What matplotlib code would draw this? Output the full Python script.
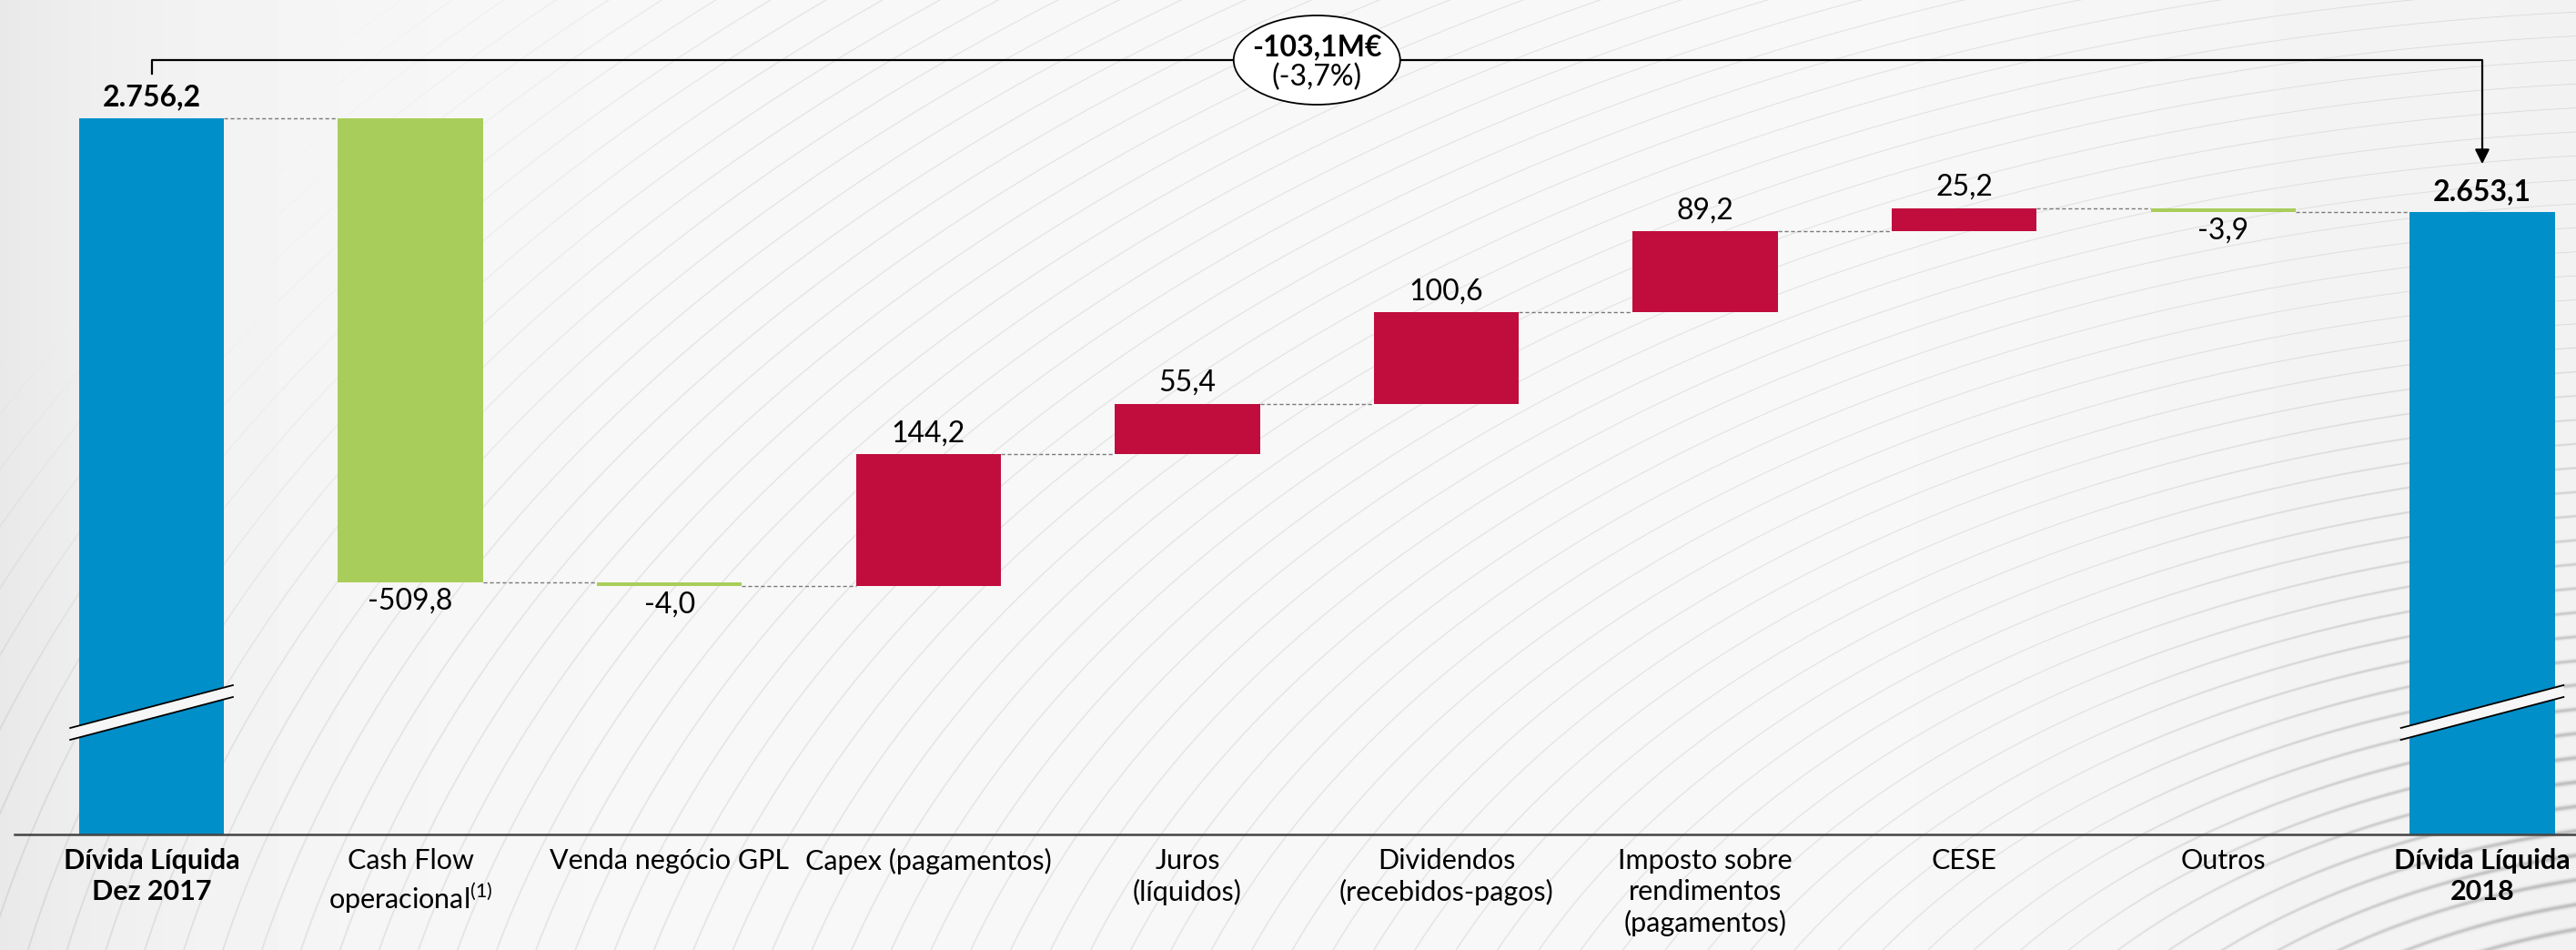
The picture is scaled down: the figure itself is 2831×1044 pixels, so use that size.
import numpy as np
import matplotlib
matplotlib.use("Agg")
import matplotlib.pyplot as plt
from matplotlib.patches import Ellipse, Polygon

plt.rcParams['font.family'] = ['Lato', 'DejaVu Sans']
plt.rcParams['mathtext.fontset'] = 'custom'
plt.rcParams['mathtext.rm'] = 'Lato'

# waterfall data (M€)
categories = ["Dívida Líquida\nDez 2017", "Cash Flow\noperacional$^{\\mathregular{(1)}}$",
              "Venda negócio GPL", "Capex (pagamentos)", "Juros\n(líquidos)",
              "Dividendos\n(recebidos-pagos)", "Imposto sobre\nrendimentos\n(pagamentos)",
              "CESE", "Outros", "Dívida Líquida\n2018"]
start_total = 2756.2
deltas = [-509.8, -4.0, 144.2, 55.4, 100.6, 89.2, 25.2, -3.9]
end_total = 2653.1
value_labels = ["2.756,2", "-509,8", "-4,0", "144,2", "55,4", "100,6", "89,2", "25,2", "-3,9", "2.653,1"]
change_label = "-103,1M€"
change_pct = "(-3,7%)"

BLUE = "#008fc9"
GREEN = "#a9cd5a"
RED = "#c00d3e"
BG = "#f6f6f6"

W, H = 2831, 1044
fig = plt.figure(figsize=(W / 100, H / 100), dpi=100)

# background: soft grey gradient with swirl lines
bg = fig.add_axes([0, 0, 1, 1], zorder=0)
px, py = np.meshgrid(np.arange(W, dtype=float), np.arange(H, dtype=float))
base = 0.972 - 0.06 * np.exp(-px / 220.0) - 0.025 * np.clip((px - 2000) / 831, 0, 1)
f = np.sqrt((px - 3000) ** 2 + (1.6 * (py - 1400)) ** 2)
spacing = 42.0
r = np.mod(f, spacing)
d = np.minimum(r, spacing - r)
corner = np.clip((np.hypot(px, py) - 350) / 500, 0, 1)
dark = np.clip((px - 2300) / 500, 0, 1) * np.clip((py - 350) / 500, 0, 1)
width = 1.0 + 3.0 * dark
weight = 0.08 * corner + 0.12 * dark
shade = base - weight * np.exp(-(d / width) ** 2)
bg.imshow(shade, cmap="gray", vmin=0, vmax=1, aspect="auto",
          extent=[0, W, H, 0], interpolation="bilinear")
bg.set_xlim(0, W)
bg.set_ylim(H, 0)
bg.axis("off")

# main axes: 1 px per M€ vertically
ax = fig.add_axes([16 / W, 127 / H, 1 - 16 / W, 917 / H], zorder=1)
ax.patch.set_alpha(0)
ymin, ymax = 1969, 2886
ax.set_ylim(ymin, ymax)
x = np.arange(len(categories))
ax.set_xlim(-0.529, 9.362)
bw = 0.56

ax.bar(x[0], start_total, width=bw, color=BLUE, zorder=2)
ax.bar(x[-1], end_total, width=bw, color=BLUE, zorder=2)

running = [start_total]
level = start_total
for i, d_ in enumerate(deltas):
    new = level + d_
    ax.bar(x[i + 1], abs(d_), bottom=min(level, new), width=bw,
           color=RED if d_ > 0 else GREEN, zorder=2)
    level = new
    running.append(level)

# dashed connectors between bars
for i, lv in enumerate(running):
    ax.plot([x[i] + bw / 2, x[i + 1] - bw / 2], [lv, lv], color="#7a7a7a",
            lw=1.0, ls=(0, (3, 2)), zorder=1)

# value labels
fs = 23
ax.annotate(value_labels[0], (x[0], start_total), xytext=(0, 8), textcoords="offset pixels",
            ha="center", va="bottom", fontsize=fs, fontweight="bold")
ax.annotate(value_labels[-1], (x[-1], end_total), xytext=(0, 8), textcoords="offset pixels",
            ha="center", va="bottom", fontsize=fs, fontweight="bold")
level = start_total
for i, d_ in enumerate(deltas):
    new = level + d_
    if d_ > 0:
        ax.annotate(value_labels[i + 1], (x[i + 1], new), xytext=(0, 8),
                    textcoords="offset pixels", ha="center", va="bottom", fontsize=fs)
    else:
        ax.annotate(value_labels[i + 1], (x[i + 1], new), xytext=(0, -6),
                    textcoords="offset pixels", ha="center", va="top", fontsize=fs)
    level = new

# axis break marks on the total bars
for xc in (x[0], x[-1]):
    xs = [xc - 0.314, xc + 0.314]
    upper = [2086, 2133]
    lower = [2073, 2120]
    ax.add_patch(Polygon([[xs[0], lower[0]], [xs[1], lower[1]], [xs[1], upper[1]], [xs[0], upper[0]]],
                         closed=True, facecolor=BG, edgecolor="none", zorder=3))
    ax.plot(xs, upper, color="black", lw=1.3, zorder=4)
    ax.plot(xs, lower, color="black", lw=1.3, zorder=4)

# bracket with arrow for the total change
ax.plot([x[0], x[0], x[-1], x[-1]], [2805, 2820, 2820, 2715], color="black",
        lw=1.6, clip_on=False, zorder=4)
ax.annotate("", xy=(x[-1], 2703), xytext=(x[-1], 2722),
            arrowprops=dict(arrowstyle="-|>", color="black", lw=1.6,
                            mutation_scale=24), annotation_clip=False, zorder=4)
ax.add_patch(Ellipse((4.5, 2820), 0.643, 98, facecolor="white", edgecolor="black",
                     lw=1.3, clip_on=False, zorder=5))
ax.text(4.5, 2834, change_label, ha="center", va="center", fontsize=fs, fontweight="bold", zorder=6)
ax.text(4.5, 2801, change_pct, ha="center", va="center", fontsize=fs, zorder=6)

# category labels
for i, lab in enumerate(categories):
    bold = i in (0, len(categories) - 1)
    ax.text(x[i], ymin - 15, lab, ha="center", va="top", fontsize=22,
            fontweight="bold" if bold else "normal", linespacing=1.25)

for s in ("top", "right", "left"):
    ax.spines[s].set_visible(False)
ax.spines["bottom"].set_color("#444444")
ax.spines["bottom"].set_linewidth(1.8)
ax.set_xticks([])
ax.set_yticks([])

fig.savefig("out.png", dpi=100)
